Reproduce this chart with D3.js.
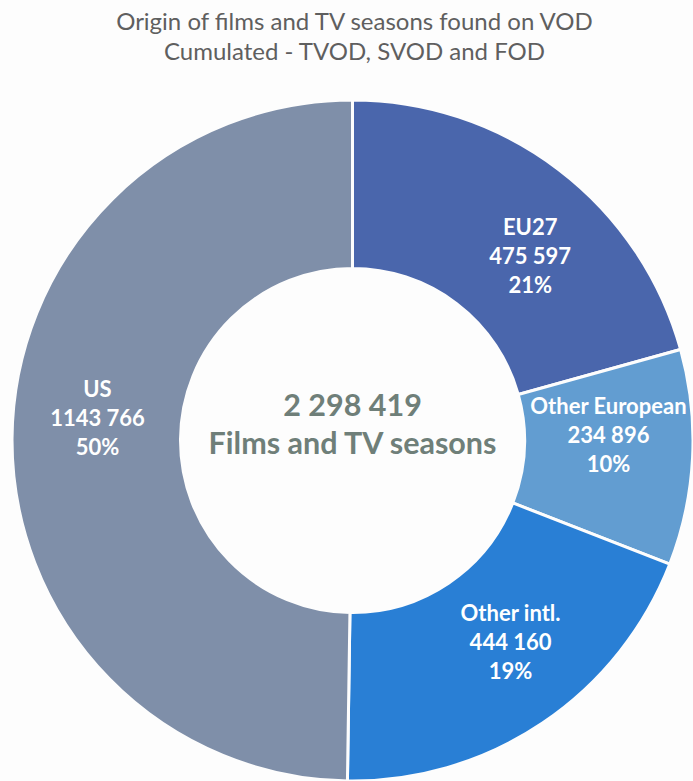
<!DOCTYPE html>
<html>
<head>
<meta charset="utf-8">
<script src="https://cdn.jsdelivr.net/npm/d3@7"></script>
<style>
  body { margin: 0; background: #fdfdfd; }
  svg { display: block; }
</style>
</head>
<body>
<div id="chart"></div>
<script>
// chart data
var categories = ["EU27", "Other European", "Other intl.", "US"];
var counts = [475597, 234896, 444160, 1143766];
var countLabels = ["475 597", "234 896", "444 160", "1143 766"];
var shares = ["21%", "10%", "19%", "50%"];
var totalLabel = "2 298 419";
var centerCaption = "Films and TV seasons";
var titleLines = ["Origin of films and TV seasons found on VOD", "Cumulated - TVOD, SVOD and FOD"];

var colors = ["#4a66ac", "#629dd1", "#297fd5", "#7f8fa9"];
// small angle nudges (degrees) for label placement, like Excel's best fit
var labelNudge = [6.7, -4.1, -4.2, 4.6];

var svgWidth = 693;
var svgHeight = 781;

var cx = 352.5;
var cy = 440.5;
var outerR = 340.5;
var innerR = 172;
var labelR = 256;

var svg = d3.select("#chart")
  .append("svg")
  .attr("width", svgWidth)
  .attr("height", svgHeight);

// title
svg.append("g")
  .selectAll("text")
  .data(titleLines)
  .enter()
  .append("text")
  .attr("x", svgWidth / 2 + 8)
  .attr("y", (d, i) => 30 + i * 30)
  .attr("text-anchor", "middle")
  .attr("font-family", "Lato, 'Open Sans', sans-serif")
  .attr("font-size", 24)
  .attr("fill", "#5f5f5f")
  .text(d => d);

var data = categories.map(function(c, i) {
  return { name: c, value: counts[i], label: countLabels[i], share: shares[i], color: colors[i], nudge: labelNudge[i] };
});

var pie = d3.pie()
  .value(d => d.value)
  .sort(null);

var arc = d3.arc()
  .innerRadius(innerR)
  .outerRadius(outerR);

var chartGroup = svg.append("g")
  .attr("transform", `translate(${cx}, ${cy})`);

var arcs = pie(data);

chartGroup.selectAll("path")
  .data(arcs)
  .enter()
  .append("path")
  .attr("d", arc)
  .attr("fill", d => d.data.color)
  .attr("stroke", "#fdfdfd")
  .attr("stroke-width", 3);

// slice labels
var labelGroups = chartGroup.selectAll(".slice-label")
  .data(arcs)
  .enter()
  .append("g")
  .attr("class", "slice-label")
  .attr("transform", function(d) {
    var a = (d.startAngle + d.endAngle) / 2 + d.data.nudge * Math.PI / 180;
    return `translate(${labelR * Math.sin(a)}, ${-labelR * Math.cos(a)})`;
  });

labelGroups.each(function(d) {
  var lines = [d.data.name, d.data.label, d.data.share];
  d3.select(this).selectAll("text")
    .data(lines)
    .enter()
    .append("text")
    .attr("x", 0)
    .attr("y", (t, i) => (i - 1) * 29)
    .attr("dy", "0.35em")
    .attr("text-anchor", "middle")
    .attr("font-family", "Lato, 'Open Sans', sans-serif")
    .attr("font-weight", "bold")
    .attr("font-size", 22)
    .attr("fill", "#ffffff")
    .text(t => t);
});

// centre text
chartGroup.append("text")
  .attr("x", 0)
  .attr("y", -35)
  .attr("dy", "0.35em")
  .attr("text-anchor", "middle")
  .attr("font-family", "Lato, 'Open Sans', sans-serif")
  .attr("font-weight", "bold")
  .attr("font-size", 30.5)
  .attr("fill", "#6f7f79")
  .text(totalLabel);

chartGroup.append("text")
  .attr("x", 0)
  .attr("y", 3)
  .attr("dy", "0.35em")
  .attr("text-anchor", "middle")
  .attr("font-family", "Lato, 'Open Sans', sans-serif")
  .attr("font-weight", "bold")
  .attr("font-size", 30.5)
  .attr("fill", "#6f7f79")
  .text(centerCaption);
</script>
</body>
</html>
